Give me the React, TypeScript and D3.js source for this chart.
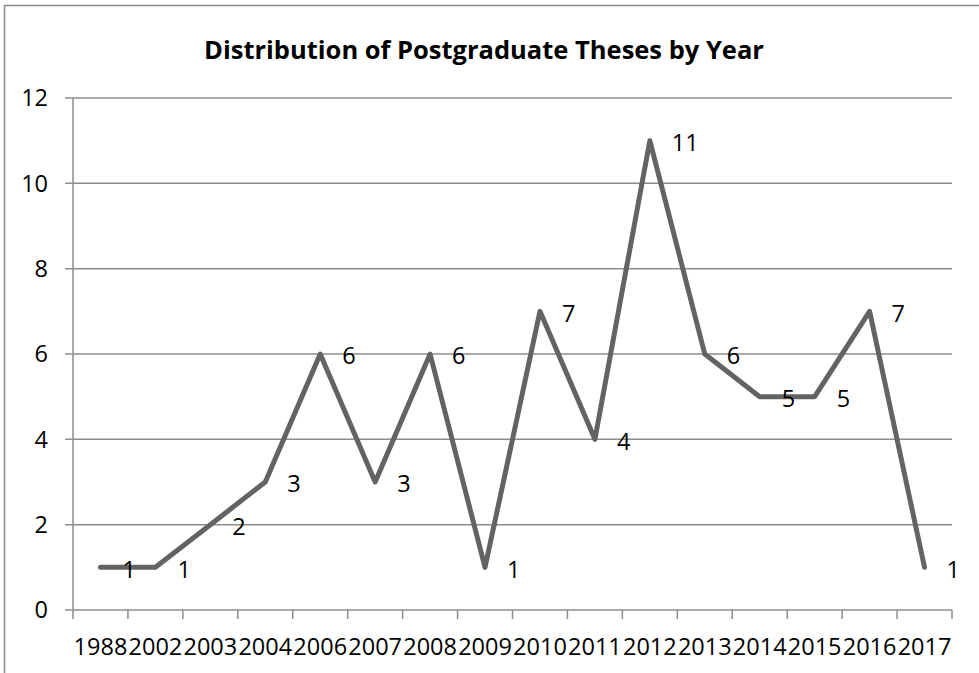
import React from "react";
import * as d3 from "d3";

const years = ["1988","2002","2003","2004","2006","2007","2008","2009","2010","2011","2012","2013","2014","2015","2016","2017"];
const theses = [1,1,2,3,6,3,6,1,7,4,11,6,5,5,7,1];
const yTicks = [0,2,4,6,8,10,12];
const title = "Distribution of Postgraduate Theses by Year";

export default function App() {
  const W = 979, H = 673;
  const left = 73, right = 952, top = 98, bottom = 610;
  const x = d3.scaleBand<string>().domain(years).range([left, right]);
  const y = d3.scaleLinear().domain([0, 12]).range([bottom, top]);
  const pts = years.map((yr, i) => [x(yr)! + x.bandwidth() / 2, y(theses[i])] as [number, number]);
  const line = d3.line()(pts) || "";
  const font = "'Open Sans', 'Liberation Sans', Arial, sans-serif";
  const grid = "#8c8c8c";
  const edges = years.map((yr) => x(yr)!).concat([right]);
  return (
    <svg width={W} height={H} style={{ position: "absolute", left: 0, top: 0, background: "#fff" }}>
      <rect x={0} y={0} width={W} height={H} fill="#fff" />
      <path d={`M4.5,${H} V5.5 H${W}`} fill="none" stroke="#8c8c8c" strokeWidth={1.5} />
      <text x={484} y={59} textAnchor="middle" fontFamily={font} fontWeight="bold" fontSize={25.5} fill="#000">{title}</text>
      {yTicks.map((t) => (
        <g key={t}>
          <line x1={65} x2={right} y1={y(t)} y2={y(t)} stroke={grid} strokeWidth={1.5} />
          <text x={48} y={y(t)} dy="0.35em" textAnchor="end" fontFamily={font} fontSize={23.5} fill="#000">{t}</text>
        </g>
      ))}
      <line x1={left} x2={left} y1={top} y2={bottom} stroke={grid} strokeWidth={1.5} />
      {edges.map((e, i) => (
        <line key={i} x1={e} x2={e} y1={bottom} y2={bottom + 9} stroke={grid} strokeWidth={1.5} />
      ))}
      {years.map((yr) => (
        <text key={yr} x={x(yr)! + x.bandwidth() / 2} y={655} textAnchor="middle" fontFamily={font} fontSize={23.5} fill="#000">{yr}</text>
      ))}
      <path d={line} fill="none" stroke="#636363" strokeWidth={5} strokeLinejoin="round" strokeLinecap="round" />
      {pts.map((p, i) => (
        <text key={i} x={p[0] + 22} y={p[1] + 2} dy="0.35em" fontFamily={font} fontSize={23.5} fill="#000">{theses[i]}</text>
      ))}
    </svg>
  );
}
